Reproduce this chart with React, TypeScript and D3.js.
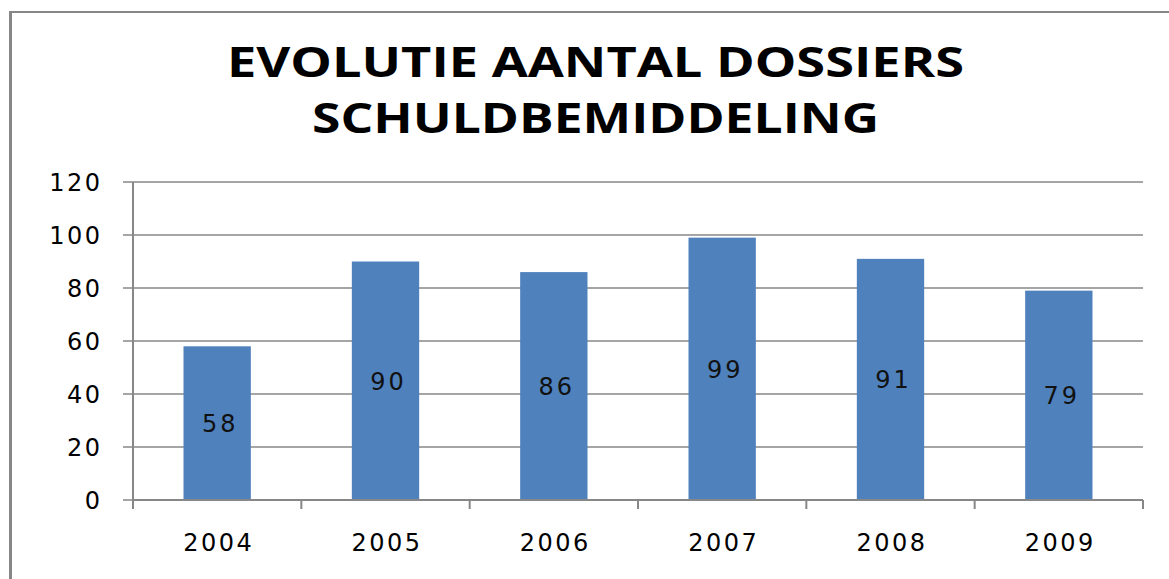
import * as d3 from "d3";
import { useEffect, useRef } from "react";

const years = ["2004", "2005", "2006", "2007", "2008", "2009"];
const dossiers = [58, 90, 86, 99, 91, 79];
const yTicks = [0, 20, 40, 60, 80, 100, 120];
const titleLines = ["EVOLUTIE AANTAL DOSSIERS", "SCHULDBEMIDDELING"];

const App = () => {
    const svgRef = useRef<SVGSVGElement | null>(null);
    const width = 1169;
    const height = 579;

    useEffect(() => {
        const svg = d3.select(svgRef.current);
        svg.selectAll("*").remove();

        const margin = { top: 182, right: 26, bottom: 79, left: 133 };
        const x = d3
            .scaleBand()
            .domain(years)
            .range([margin.left, width - margin.right]);
        const y = d3
            .scaleLinear()
            .domain([0, 120])
            .range([height - margin.bottom, margin.top]);

        const gray = "#878787";
        const font = "'DejaVu Sans', sans-serif";

        // frame (left + top edge only)
        svg.append("line")
            .attr("x1", 10.5).attr("x2", 10.5)
            .attr("y1", 11).attr("y2", height)
            .attr("stroke", gray).attr("stroke-width", 3);
        svg.append("line")
            .attr("x1", 9).attr("x2", width)
            .attr("y1", 12).attr("y2", 12)
            .attr("stroke", gray).attr("stroke-width", 2);

        // title
        const titleWidths = [737, 567];
        const titleBase = [77, 133];
        svg.selectAll(".title")
            .data(titleLines)
            .join("text")
            .attr("class", "title")
            .attr("x", width / 2 + 11)
            .attr("y", (_, i) => titleBase[i])
            .attr("text-anchor", "middle")
            .attr("textLength", (_, i) => titleWidths[i])
            .attr("lengthAdjust", "spacingAndGlyphs")
            .attr("font-family", "'Open Sans', sans-serif")
            .attr("font-weight", 700)
            .attr("font-size", 41)
            .attr("fill", "#000")
            .text((d) => d);

        // gridlines + y ticks
        svg.selectAll(".grid")
            .data(yTicks)
            .join("line")
            .attr("class", "grid")
            .attr("x1", margin.left - 10)
            .attr("x2", width - margin.right)
            .attr("y1", (d) => y(d))
            .attr("y2", (d) => y(d))
            .attr("stroke", gray)
            .attr("stroke-width", 1.5);

        svg.selectAll(".ylab")
            .data(yTicks)
            .join("text")
            .attr("class", "ylab")
            .attr("x", 102.5)
            .attr("y", (d) => y(d) + 9)
            .attr("text-anchor", "end")
            .attr("font-family", font)
            .attr("font-size", 24)
            .attr("letter-spacing", 2.5)
            .attr("fill", "#000")
            .text((d) => d);

        // bars
        const barW = x.bandwidth() * 0.4;
        svg.selectAll(".bar")
            .data(dossiers)
            .join("rect")
            .attr("class", "bar")
            .attr("x", (_, i) => x(years[i])! + (x.bandwidth() - barW) / 2)
            .attr("y", (d) => y(d))
            .attr("width", barW)
            .attr("height", (d) => y(0) - y(d))
            .attr("fill", "#4F81BD");

        svg.selectAll(".vlab")
            .data(dossiers)
            .join("text")
            .attr("class", "vlab")
            .attr("x", (_, i) => x(years[i])! + x.bandwidth() / 2 + 3)
            .attr("y", (d) => (y(d) + y(0)) / 2 + 9)
            .attr("text-anchor", "middle")
            .attr("font-family", font)
            .attr("font-size", 24)
            .attr("letter-spacing", 3)
            .attr("fill", "#111")
            .text((d) => d);

        // axes lines
        svg.append("line")
            .attr("x1", margin.left).attr("x2", margin.left)
            .attr("y1", y(120)).attr("y2", y(0) + 9)
            .attr("stroke", gray).attr("stroke-width", 2);
        svg.append("line")
            .attr("x1", margin.left).attr("x2", width - margin.right)
            .attr("y1", y(0)).attr("y2", y(0))
            .attr("stroke", gray).attr("stroke-width", 2);

        const bounds = years.map((d) => x(d)!).concat([width - margin.right]);
        svg.selectAll(".xtick")
            .data(bounds)
            .join("line")
            .attr("class", "xtick")
            .attr("x1", (d) => d).attr("x2", (d) => d)
            .attr("y1", y(0)).attr("y2", y(0) + 9)
            .attr("stroke", gray).attr("stroke-width", 2);

        svg.selectAll(".xlab")
            .data(years)
            .join("text")
            .attr("class", "xlab")
            .attr("x", (d) => x(d)! + x.bandwidth() / 2 + 1.5)
            .attr("y", 551)
            .attr("text-anchor", "middle")
            .attr("font-family", font)
            .attr("font-size", 24)
            .attr("letter-spacing", 2.5)
            .attr("fill", "#000")
            .text((d) => d);
    }, []);

    return (
        <svg
            ref={svgRef}
            width={width}
            height={height}
            style={{ position: "absolute", left: 0, top: 0, background: "#fff" }}
        />
    );
};

export default App;
